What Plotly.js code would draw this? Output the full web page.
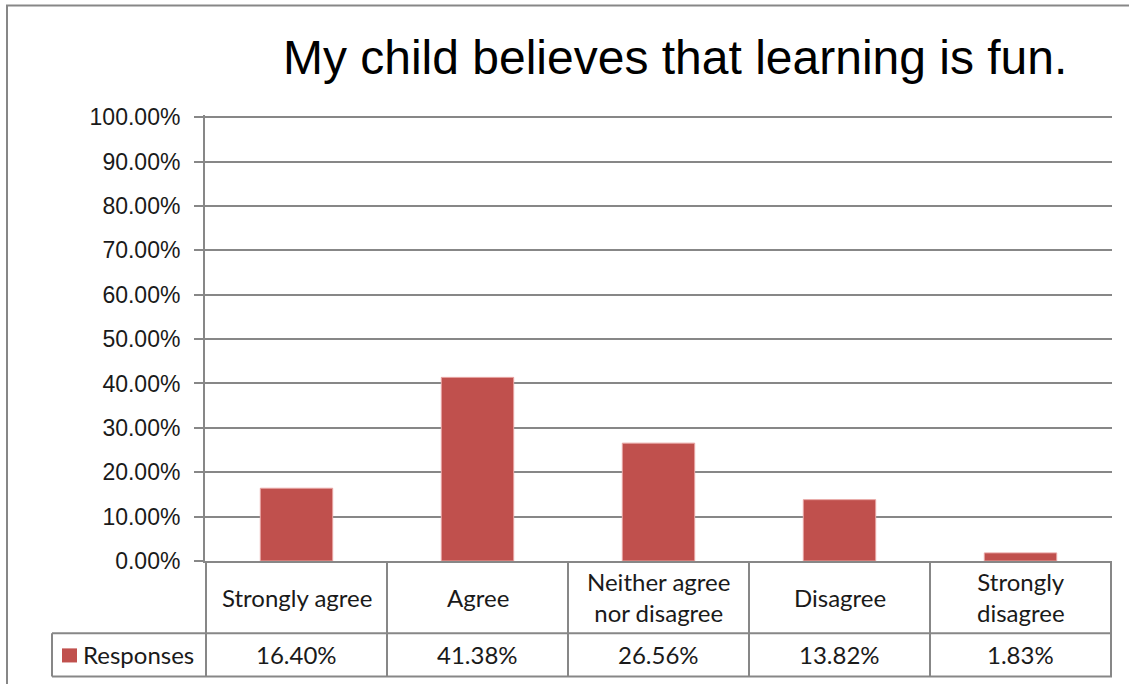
<!DOCTYPE html>
<html>
<head>
<meta charset="utf-8">
<script src="https://cdn.plot.ly/plotly-3.0.1.min.js"></script>
<style>
    html, body { margin: 0; padding: 0; background: white; }
    #chart { width: 1129px; height: 684px; }
</style>
</head>
<body>
<div id="chart"></div>
<script>
// Chart data
const chartTitle = 'My child believes that learning is fun.';
const seriesName = 'Responses';
const categories = ['Strongly agree', 'Agree', 'Neither agree<br>nor disagree', 'Disagree', 'Strongly<br>disagree'];
const responses = [0.1640, 0.4138, 0.2656, 0.1382, 0.0183];

const barColor = '#C0504D';
const lineColor = '#878787';
const tableFont = { family: 'Lato, "Open Sans", sans-serif', size: 24, color: '#1a1a1a' };

// table rows sit below the plot area, in paper units (plot is 444px tall, 907px wide)
const catRowBottom = -72 / 444;
const valRowBottom = -115 / 444;
const legendLeft = -153 / 907;

const shapes = [];
const annotations = [];

// horizontal table lines
[catRowBottom, valRowBottom].forEach(y => {
    shapes.push({
        type: 'line', xref: 'paper', yref: 'paper',
        x0: legendLeft, x1: 1, y0: y, y1: y,
        line: { color: lineColor, width: 2 }
    });
});

// vertical lines at category boundaries
for (let i = 0; i <= categories.length; i++) {
    shapes.push({
        type: 'line', xref: 'x', yref: 'paper',
        x0: i - 0.5, x1: i - 0.5, y0: 0, y1: valRowBottom,
        line: { color: lineColor, width: 2 }
    });
}

// legend cell left edge
shapes.push({
    type: 'line', xref: 'paper', yref: 'paper',
    x0: legendLeft, x1: legendLeft, y0: catRowBottom, y1: valRowBottom,
    line: { color: lineColor, width: 2 }
});

// legend key square
shapes.push({
    type: 'rect', xref: 'paper', yref: 'paper',
    x0: -143 / 907, x1: -128 / 907, y0: -87 / 444, y1: -101 / 444,
    fillcolor: barColor, line: { width: 0 }
});

// outer chart border
shapes.push({
    type: 'rect', xref: 'paper', yref: 'paper',
    x0: -198 / 907, x1: 1.1, y0: 553 / 444, y1: -0.4,
    line: { color: lineColor, width: 2 }, fillcolor: 'rgba(0,0,0,0)', layer: 'below'
});

categories.forEach((cat, i) => {
    annotations.push({
        xref: 'x', yref: 'paper', x: i, y: catRowBottom / 2,
        text: cat, showarrow: false, yanchor: 'middle',
        font: tableFont
    });
    annotations.push({
        xref: 'x', yref: 'paper', x: i, y: (catRowBottom + valRowBottom) / 2,
        text: (responses[i] * 100).toFixed(2) + '%', showarrow: false, yanchor: 'middle',
        font: tableFont
    });
});

annotations.push({
    xref: 'paper', yref: 'paper', x: -124 / 907, y: (catRowBottom + valRowBottom) / 2,
    text: seriesName, showarrow: false, xanchor: 'left', yanchor: 'middle',
    font: tableFont
});

const trace = {
    type: 'bar',
    x: categories,
    y: responses,
    name: seriesName,
    marker: { color: barColor, line: { color: '#E8A6A4', width: 1 } },
    hoverinfo: 'y'
};

const layout = {
    width: 1129,
    height: 684,
    margin: { l: 205, r: 17, t: 115, b: 123 },
    paper_bgcolor: 'white',
    plot_bgcolor: 'white',
    showlegend: false,
    bargap: 0.6,
    title: {
        text: chartTitle,
        xref: 'container', x: 0.598, xanchor: 'center',
        yref: 'container', y: 1 - 57 / 684, yanchor: 'middle',
        font: { family: '"Liberation Sans", Arial, sans-serif', size: 48, color: '#000' }
    },
    xaxis: {
        type: 'category',
        showticklabels: false,
        ticks: '',
        showgrid: false,
        showline: true,
        linecolor: lineColor,
        linewidth: 2,
        zeroline: false,
        fixedrange: true
    },
    yaxis: {
        range: [0, 1.005],
        dtick: 0.1,
        tickformat: '.2%',
        ticks: 'outside',
        ticklen: 9,
        tickwidth: 2,
        tickcolor: lineColor,
        ticklabelstandoff: 9,
        showline: true,
        linecolor: lineColor,
        linewidth: 2,
        showgrid: true,
        gridcolor: lineColor,
        gridwidth: 2,
        zeroline: false,
        tickfont: { family: '"Liberation Sans", Arial, sans-serif', size: 23, color: '#1a1a1a' },
        fixedrange: true
    },
    shapes: shapes,
    annotations: annotations
};

Plotly.newPlot('chart', [trace], layout, { displayModeBar: false, staticPlot: true });
</script>
</body>
</html>
